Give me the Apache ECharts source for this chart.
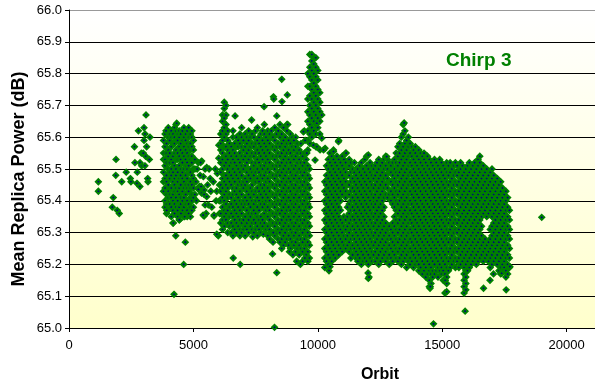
<!DOCTYPE html>
<html><head><meta charset="utf-8">
<script src="https://cdn.jsdelivr.net/npm/echarts@6/dist/echarts.min.js"></script>
<style>html,body{margin:0;padding:0;background:#fff;overflow:hidden}#c{width:595px;height:385px}</style>
</head><body><div id="c"></div>
<script>
// Axis settings (ticks); the plot area is cut at the right edge of the picture
const xTicks = {min: 0, max: 21140, interval: 5000};
const yTicks = {min: 65.0, max: 66.0, interval: 0.1};
const chartTitle = 'Chirp 3';
const xTitle = 'Orbit';
const yTitle = 'Mean Replica Power (dB)';

// Individual points [orbit, power]
const earlyPoints = [[1180,65.46],[1180,65.43],[1780,65.41],[1740,65.38],[1940,65.37],[2020,65.36],[1890,65.53],[1880,65.48],[2120,65.46],[2300,65.49],[2465,65.47],[2490,65.46],[2630,65.57],[2650,65.52],[2745,65.49],[2790,65.62],[2730,65.455],[2850,65.445],[2910,65.55],[2855,65.52],[2920,65.51],[3015,65.63],[3055,65.61],[3015,65.59],[3095,65.67],[3175,65.46],[3160,65.47],[3230,65.53],[3255,65.60],[3120,65.57],[3080,65.54],[2985,65.55],[3050,65.51]];

// Column data: [orbit, power values...]
const clusterB = [
[3800,65.43,65.46,65.49,65.53,65.55,65.59],
[3860,65.38,65.40,65.44,65.47,65.51,65.53,65.57,65.61],
[3920,65.36,65.39,65.42,65.46,65.48,65.52,65.55,65.58,65.62],
[3990,65.37,65.41,65.43,65.45,65.50,65.54,65.56,65.60,65.63],
[4050,65.39,65.42,65.47,65.49,65.52,65.55,65.59,65.61],
[4110,65.35,65.38,65.41,65.44,65.48,65.50,65.53,65.57,65.60,65.62],
[4180,65.33,65.37,65.40,65.42,65.46,65.49,65.52,65.54,65.58,65.61],
[4240,65.36,65.39,65.43,65.45,65.47,65.51,65.55,65.58,65.60,65.63],
[4300,65.38,65.41,65.44,65.48,65.50,65.53,65.56,65.59,65.62,65.64],
[4370,65.35,65.37,65.40,65.43,65.46,65.49,65.53,65.55,65.59,65.61],
[4430,65.34,65.38,65.42,65.44,65.47,65.51,65.54,65.57,65.60,65.62],
[4490,65.36,65.39,65.41,65.45,65.48,65.50,65.53,65.56,65.58,65.61],
[4560,65.37,65.40,65.43,65.47,65.49,65.52,65.55,65.59,65.62],
[4620,65.35,65.38,65.41,65.44,65.46,65.50,65.54,65.57,65.60,65.63],
[4690,65.36,65.39,65.42,65.45,65.48,65.51,65.53,65.56,65.59,65.61],
[4750,65.35,65.37,65.40,65.44,65.47,65.50,65.52,65.55,65.58,65.62],
[4810,65.36,65.39,65.43,65.45,65.49,65.51,65.54,65.57,65.60,65.63],
[4880,65.35,65.38,65.41,65.44,65.46,65.49,65.53,65.56,65.58,65.61],
[4940,65.37,65.40,65.42,65.45,65.48,65.52,65.54,65.57,65.60,65.62],
[5000,65.38,65.41,65.44,65.47,65.50,65.53,65.56,65.59],
[5060,65.42,65.46,65.50,65.53]
];
const outliersB = [[3900,65.62],[4330,65.644],[3925,65.37],[4190,65.33],[4290,65.29],[4675,65.27],[4610,65.20],[4220,65.106],[4435,65.34],[4500,65.36],[4650,65.35]];

const sparseC = [[5200,65.52],[5330,65.525],[5535,65.505],[5630,65.50],[5240,65.445],[5200,65.436],[5330,65.424],[5430,65.434],[5535,65.413],[5600,65.387],[5510,65.36],[5430,65.352],[5830,65.352],[5740,65.38],[5910,65.40],[5940,65.43],[5800,65.46],[5960,65.486],[6020,65.534],[6020,65.575],[5400,65.476],[5670,65.47],[5270,65.48],[5290,65.52],[5470,65.50],[5310,65.445],[5430,65.42],[5470,65.387],[5390,65.355],[5830,65.355],[6000,65.29],[5940,65.295],[5100,65.46],[5120,65.40],[5700,65.43],[5880,65.50],[5570,65.45],[5150,65.50],[6050,65.45],[6040,65.40],[6050,65.36]];

const clusterD = [
[6100,65.33,65.36,65.40,65.43,65.45,65.49,65.52,65.56,65.58,65.61],
[6170,65.31,65.34,65.38,65.41,65.44,65.47,65.50,65.53,65.55,65.59,65.62,65.65,65.67],
[6240,65.32,65.35,65.37,65.40,65.42,65.46,65.48,65.51,65.54,65.57,65.60,65.63,65.66,65.69,65.71],
[6310,65.34,65.36,65.39,65.43,65.45,65.48,65.52,65.54,65.57,65.61,65.64,65.67,65.70],
[6380,65.30,65.33,65.37,65.41,65.44,65.47,65.50,65.53,65.56,65.59,65.62],
[6450,65.32,65.35,65.38,65.42,65.46,65.49,65.51,65.55,65.58],
[6520,65.30,65.33,65.36,65.39,65.41,65.45,65.48,65.52,65.54,65.57],
[6590,65.29,65.32,65.35,65.38,65.42,65.44,65.47,65.50,65.53,65.56,65.60,65.62],
[6660,65.31,65.34,65.37,65.40,65.43,65.46,65.49,65.52,65.55,65.58],
[6730,65.30,65.33,65.36,65.39,65.42,65.44,65.48,65.51,65.54,65.57,65.60],
[6800,65.32,65.35,65.38,65.41,65.45,65.47,65.50,65.53,65.57,65.59],
[6870,65.29,65.31,65.34,65.37,65.40,65.43,65.46,65.49,65.52,65.55,65.58,65.61],
[6940,65.30,65.33,65.36,65.39,65.42,65.45,65.48,65.51,65.54,65.57,65.60,65.63],
[7010,65.31,65.34,65.38,65.40,65.44,65.46,65.50,65.53,65.56,65.59],
[7080,65.29,65.32,65.35,65.39,65.41,65.45,65.47,65.51,65.54,65.57,65.61],
[7150,65.31,65.33,65.37,65.40,65.43,65.46,65.49,65.52,65.55,65.58,65.60],
[7220,65.30,65.34,65.36,65.39,65.42,65.44,65.48,65.50,65.53,65.56,65.59,65.62],
[7290,65.32,65.35,65.38,65.41,65.44,65.47,65.50,65.54,65.57,65.60],
[7360,65.31,65.33,65.36,65.40,65.43,65.45,65.49,65.52,65.55,65.58,65.61],
[7430,65.30,65.34,65.37,65.39,65.42,65.46,65.48,65.51,65.54,65.57,65.60],
[7500,65.31,65.33,65.36,65.40,65.43,65.46,65.49,65.52,65.55,65.58,65.62],
[7570,65.29,65.32,65.35,65.38,65.41,65.44,65.47,65.50,65.53,65.56,65.59,65.63],
[7640,65.31,65.34,65.37,65.40,65.43,65.46,65.49,65.52,65.55,65.58,65.60],
[7710,65.30,65.33,65.35,65.39,65.42,65.45,65.48,65.51,65.54,65.57,65.61],
[7780,65.32,65.34,65.38,65.41,65.44,65.47,65.50,65.53,65.56,65.59,65.62],
[7850,65.30,65.33,65.36,65.39,65.43,65.45,65.48,65.51,65.55,65.58,65.61,65.64],
[7920,65.31,65.35,65.37,65.40,65.42,65.46,65.49,65.52,65.54,65.57,65.60],
[7990,65.29,65.32,65.35,65.38,65.41,65.44,65.47,65.50,65.53,65.56,65.59,65.62],
[8060,65.28,65.31,65.34,65.37,65.40,65.43,65.46,65.49,65.52,65.55,65.58,65.61],
[8130,65.30,65.33,65.36,65.39,65.42,65.45,65.48,65.51,65.54,65.57,65.60,65.62],
[8200,65.27,65.30,65.33,65.36,65.39,65.42,65.45,65.48,65.51,65.54,65.57,65.60],
[8270,65.29,65.32,65.35,65.38,65.41,65.44,65.47,65.50,65.53,65.56,65.59,65.63],
[8340,65.30,65.33,65.36,65.39,65.42,65.45,65.48,65.51,65.54,65.57,65.61],
[8410,65.28,65.31,65.34,65.37,65.40,65.43,65.46,65.49,65.52,65.55,65.58,65.62],
[8480,65.27,65.30,65.33,65.36,65.39,65.42,65.45,65.48,65.51,65.54,65.57,65.60,65.64],
[8550,65.25,65.28,65.31,65.34,65.37,65.40,65.43,65.46,65.49,65.52,65.55,65.58,65.61],
[8620,65.26,65.29,65.32,65.35,65.38,65.41,65.44,65.47,65.50,65.53,65.56,65.59,65.63],
[8690,65.27,65.30,65.33,65.36,65.39,65.42,65.45,65.48,65.51,65.54,65.57,65.60],
[8760,65.28,65.31,65.34,65.37,65.40,65.43,65.46,65.49,65.52,65.55,65.58,65.62,65.64],
[8830,65.26,65.29,65.32,65.35,65.38,65.41,65.44,65.47,65.50,65.53,65.56,65.59],
[8900,65.25,65.28,65.31,65.34,65.37,65.40,65.43,65.46,65.49,65.52,65.55,65.58,65.61],
[8970,65.27,65.30,65.33,65.36,65.39,65.42,65.45,65.48,65.51,65.54,65.57,65.60],
[9040,65.26,65.29,65.32,65.35,65.38,65.41,65.44,65.47,65.50,65.53,65.56,65.59],
[9110,65.24,65.27,65.30,65.33,65.36,65.39,65.42,65.45,65.48,65.51,65.54,65.57,65.60],
[9180,65.25,65.28,65.31,65.34,65.37,65.40,65.43,65.46,65.49,65.52,65.55,65.58],
[9250,65.23,65.26,65.29,65.32,65.35,65.38,65.41,65.44,65.47,65.50,65.53,65.56],
[9320,65.25,65.28,65.31,65.34,65.37,65.40,65.43,65.46,65.49,65.52,65.55,65.58],
[9390,65.21,65.24,65.27,65.30,65.33,65.36,65.39,65.42,65.45,65.48,65.51,65.54],
[9460,65.25,65.28,65.31,65.34,65.37,65.40,65.43,65.46,65.49,65.52,65.55,65.62],
[9530,65.23,65.26,65.29,65.32,65.35,65.38,65.41,65.44,65.47,65.50,65.53],
[9600,65.21,65.24,65.27,65.30,65.33,65.36,65.39,65.42,65.45,65.48,65.51],
[9660,65.22,65.26,65.29,65.32,65.35,65.38,65.41,65.44,65.47,65.50]
];
const outliersD = [[6600,65.22],[6880,65.20],[8180,65.233],[8350,65.174],[8260,65.002],[8550,65.782],[8775,65.733],[8215,65.727],[8230,65.72],[8560,65.712],[7840,65.696],[7340,65.654],[6675,65.667],[8350,65.667],[8790,65.64],[7385,65.287],[7810,65.295],[8210,65.30],[9000,65.23],[9150,65.21],[9300,65.20],[8860,65.24],[9480,65.22]];

const columnE = [
[9600,65.56,65.59,65.62,65.65,65.68,65.72,65.76,65.80],
[9680,65.58,65.61,65.64,65.67,65.70,65.73,65.76,65.79,65.82,65.86],
[9760,65.60,65.63,65.66,65.69,65.72,65.75,65.78,65.81,65.84,65.86],
[9840,65.62,65.65,65.68,65.71,65.74,65.77,65.80,65.83,65.85],
[9920,65.57,65.61,65.64,65.67,65.70,65.73,65.76,65.79,65.82,65.85],
[10000,65.63,65.66,65.69,65.72,65.75,65.78,65.81],
[10080,65.61,65.65,65.68,65.71,65.74]
];
const extrasE = [[9420,65.617],[9490,65.59],[9560,65.55],[9890,65.528],[9960,65.57],[10090,65.56],[10160,65.597],[10290,65.565],[9820,65.575],[10160,65.67],[10230,65.56],[9960,65.644]];

const clusterF = [
[10280,65.19,65.22,65.25,65.28,65.31,65.34,65.37,65.40,65.43,65.46],
[10350,65.21,65.24,65.27,65.30,65.33,65.36,65.39,65.42,65.45,65.48,65.51],
[10420,65.20,65.23,65.26,65.29,65.32,65.35,65.38,65.41,65.44,65.47,65.50,65.53],
[10490,65.22,65.25,65.28,65.31,65.34,65.37,65.40,65.43,65.46,65.49,65.52,65.55],
[10560,65.21,65.24,65.27,65.30,65.33,65.36,65.39,65.42,65.45,65.48,65.51,65.54],
[10630,65.23,65.26,65.29,65.32,65.35,65.38,65.41,65.44,65.47,65.50,65.53,65.56],
[10700,65.22,65.25,65.28,65.31,65.34,65.37,65.40,65.43,65.46,65.49,65.52],
[10770,65.24,65.27,65.30,65.33,65.36,65.39,65.42,65.45,65.48,65.51,65.54],
[10840,65.23,65.26,65.29,65.32,65.35,65.38,65.41,65.44,65.47,65.50,65.53,65.59],
[10910,65.25,65.28,65.31,65.34,65.37,65.40,65.43,65.46,65.49,65.52],
[10980,65.24,65.27,65.30,65.33,65.42,65.45,65.48,65.51,65.54],
[11050,65.26,65.29,65.32,65.35,65.44,65.47,65.50,65.53],
[11120,65.25,65.28,65.31,65.34,65.41,65.43,65.46,65.49,65.52,65.55],
[11190,65.26,65.29,65.32,65.35,65.38,65.42,65.45,65.48,65.51],
[11260,65.24,65.27,65.30,65.33,65.36,65.39,65.42,65.45,65.48,65.51,65.53],
[11330,65.22,65.25,65.28,65.31,65.34,65.37,65.40,65.43,65.46,65.49,65.52],
[11400,65.23,65.26,65.29,65.32,65.35,65.38,65.41,65.44,65.47,65.50],
[11470,65.25,65.28,65.31,65.34,65.37,65.40,65.43,65.46,65.49,65.52],
[11540,65.22,65.24,65.27,65.30,65.33,65.36,65.39,65.42,65.45,65.48,65.50],
[11610,65.21,65.23,65.26,65.29,65.32,65.35,65.38,65.41,65.44,65.47,65.50],
[11680,65.22,65.25,65.28,65.31,65.34,65.37,65.40,65.43,65.46,65.49,65.51],
[11750,65.20,65.24,65.27,65.30,65.33,65.36,65.39,65.42,65.45,65.48,65.52],
[11820,65.21,65.23,65.26,65.29,65.32,65.35,65.38,65.41,65.44,65.47,65.50],
[11890,65.22,65.25,65.28,65.31,65.34,65.37,65.40,65.43,65.46,65.49,65.53],
[11960,65.21,65.24,65.27,65.30,65.33,65.36,65.39,65.42,65.45,65.48,65.51,65.54],
[12030,65.20,65.23,65.26,65.29,65.32,65.35,65.38,65.41,65.44,65.47,65.50],
[12100,65.22,65.25,65.28,65.31,65.34,65.37,65.40,65.43,65.46,65.49,65.52],
[12170,65.21,65.24,65.27,65.30,65.33,65.36,65.39,65.42,65.45,65.48,65.51],
[12240,65.23,65.26,65.29,65.32,65.35,65.38,65.41,65.44,65.47,65.50],
[12310,65.21,65.24,65.27,65.30,65.33,65.36,65.39,65.42,65.45,65.48,65.51],
[12380,65.22,65.25,65.28,65.31,65.34,65.37,65.40,65.43,65.46,65.49,65.52],
[12450,65.20,65.23,65.26,65.29,65.32,65.35,65.38,65.41,65.44,65.47,65.50,65.53],
[12520,65.21,65.24,65.27,65.30,65.33,65.36,65.39,65.42,65.45,65.48,65.51],
[12590,65.22,65.25,65.28,65.31,65.34,65.37,65.40,65.43,65.46,65.49,65.52],
[12660,65.23,65.26,65.29,65.32,65.35,65.38,65.41,65.44,65.47,65.50,65.53],
[12730,65.21,65.24,65.27,65.30,65.33,65.42,65.45,65.48,65.51,65.54],
[12800,65.22,65.25,65.28,65.31,65.41,65.44,65.47,65.50,65.53],
[12870,65.20,65.23,65.26,65.29,65.32,65.42,65.46,65.49,65.52],
[12940,65.22,65.25,65.28,65.31,65.40,65.43,65.46,65.49,65.51],
[13010,65.21,65.24,65.27,65.30,65.33,65.39,65.42,65.45,65.48,65.52],
[13080,65.23,65.26,65.29,65.32,65.35,65.38,65.41,65.44,65.47,65.50,65.53],
[13150,65.22,65.25,65.28,65.31,65.34,65.37,65.40,65.43,65.46,65.49,65.52,65.55],
[13220,65.21,65.24,65.27,65.30,65.33,65.36,65.39,65.42,65.45,65.48,65.51,65.54,65.57],
[13290,65.22,65.25,65.28,65.31,65.34,65.37,65.40,65.43,65.46,65.49,65.52,65.55,65.58]
];
const extrasF = [[10490,65.193],[10450,65.18],[12020,65.173],[12030,65.156],[12060,65.16],[10830,65.586],[12030,65.544],[12770,65.539],[10630,65.555],[11140,65.55]];

const clusterG = [
[13360,65.20,65.23,65.26,65.29,65.32,65.35,65.38,65.41,65.44,65.47,65.50,65.53,65.56,65.60],
[13430,65.21,65.24,65.27,65.30,65.33,65.36,65.39,65.42,65.45,65.48,65.51,65.54,65.57,65.61,65.64],
[13500,65.22,65.25,65.28,65.31,65.34,65.37,65.40,65.43,65.46,65.49,65.52,65.55,65.58,65.62],
[13570,65.19,65.23,65.26,65.29,65.32,65.35,65.38,65.41,65.44,65.47,65.50,65.53,65.56,65.59],
[13640,65.21,65.24,65.27,65.30,65.33,65.36,65.39,65.42,65.45,65.48,65.51,65.54,65.57,65.60],
[13710,65.20,65.22,65.25,65.28,65.31,65.34,65.37,65.40,65.43,65.46,65.49,65.52,65.55,65.58],
[13780,65.21,65.24,65.27,65.30,65.33,65.36,65.39,65.42,65.45,65.48,65.51,65.54,65.57],
[13850,65.19,65.23,65.26,65.29,65.32,65.35,65.38,65.41,65.44,65.47,65.50,65.53,65.56],
[13920,65.20,65.22,65.25,65.28,65.31,65.34,65.37,65.40,65.43,65.46,65.49,65.52,65.55,65.57],
[13990,65.21,65.24,65.27,65.30,65.33,65.36,65.39,65.42,65.45,65.48,65.51,65.54],
[14060,65.18,65.20,65.23,65.26,65.29,65.32,65.35,65.38,65.41,65.44,65.47,65.50,65.53,65.56],
[14130,65.19,65.22,65.25,65.28,65.31,65.34,65.37,65.40,65.43,65.46,65.49,65.52,65.55],
[14200,65.17,65.21,65.24,65.27,65.30,65.33,65.36,65.39,65.42,65.45,65.48,65.51,65.54],
[14270,65.18,65.20,65.23,65.26,65.29,65.32,65.35,65.38,65.41,65.44,65.47,65.50,65.53,65.55],
[14340,65.16,65.19,65.22,65.25,65.28,65.31,65.34,65.37,65.40,65.43,65.46,65.49,65.52],
[14410,65.17,65.21,65.24,65.27,65.30,65.33,65.36,65.39,65.42,65.45,65.48,65.51,65.54],
[14480,65.13,65.15,65.18,65.20,65.23,65.26,65.29,65.32,65.35,65.38,65.41,65.44,65.47,65.50,65.53],
[14550,65.14,65.17,65.19,65.22,65.25,65.28,65.31,65.34,65.37,65.40,65.43,65.46,65.49,65.52],
[14620,65.16,65.18,65.21,65.24,65.27,65.30,65.33,65.36,65.39,65.42,65.45,65.48,65.51],
[14690,65.17,65.20,65.23,65.26,65.29,65.32,65.35,65.38,65.41,65.44,65.47,65.50,65.53],
[14760,65.18,65.22,65.25,65.28,65.31,65.34,65.37,65.40,65.43,65.46,65.49,65.52],
[14830,65.16,65.19,65.21,65.24,65.27,65.30,65.33,65.36,65.39,65.42,65.45,65.48,65.51],
[14900,65.18,65.20,65.23,65.26,65.29,65.32,65.35,65.38,65.41,65.44,65.47,65.50,65.53],
[14970,65.17,65.19,65.22,65.25,65.28,65.31,65.34,65.37,65.40,65.43,65.46,65.49,65.52],
[15040,65.15,65.18,65.21,65.24,65.27,65.30,65.33,65.36,65.39,65.42,65.45,65.48,65.51],
[15110,65.11,65.15,65.17,65.20,65.23,65.26,65.29,65.32,65.35,65.38,65.41,65.44,65.47,65.50],
[15180,65.14,65.16,65.19,65.22,65.25,65.28,65.31,65.34,65.37,65.40,65.43,65.46,65.49,65.52],
[15250,65.18,65.21,65.24,65.27,65.30,65.33,65.36,65.39,65.42,65.45,65.48,65.51],
[15320,65.19,65.22,65.25,65.28,65.31,65.34,65.37,65.40,65.43,65.46,65.49,65.52],
[15390,65.20,65.23,65.26,65.29,65.32,65.35,65.38,65.41,65.44,65.47,65.50],
[15460,65.21,65.24,65.27,65.30,65.33,65.36,65.39,65.42,65.45,65.48,65.51],
[15530,65.19,65.22,65.25,65.28,65.31,65.34,65.37,65.40,65.43,65.46,65.49,65.52]
];

const clusterH = [
[15600,65.21,65.24,65.27,65.30,65.33,65.36,65.39,65.42,65.45,65.48,65.51],
[15670,65.19,65.22,65.25,65.28,65.31,65.34,65.37,65.40,65.43,65.46,65.49],
[15740,65.20,65.23,65.26,65.29,65.32,65.35,65.38,65.41,65.44,65.47,65.50,65.52],
[15810,65.21,65.24,65.27,65.30,65.33,65.36,65.39,65.42,65.45,65.48,65.51],
[15880,65.11,65.13,65.15,65.17,65.19,65.22,65.25,65.28,65.31,65.34,65.37,65.40,65.43,65.46,65.49],
[15950,65.12,65.14,65.16,65.18,65.20,65.23,65.26,65.29,65.32,65.35,65.38,65.41,65.44,65.47,65.50],
[16020,65.18,65.21,65.24,65.27,65.30,65.33,65.36,65.39,65.42,65.45,65.48,65.51],
[16090,65.19,65.22,65.25,65.28,65.31,65.34,65.37,65.40,65.43,65.46,65.49,65.52],
[16160,65.20,65.23,65.26,65.29,65.32,65.35,65.38,65.41,65.44,65.47,65.50],
[16230,65.21,65.24,65.27,65.30,65.33,65.36,65.39,65.42,65.45,65.48,65.51],
[16300,65.22,65.25,65.28,65.31,65.34,65.37,65.40,65.43,65.46,65.49,65.52],
[16370,65.20,65.23,65.26,65.29,65.32,65.35,65.38,65.41,65.44,65.47,65.50],
[16440,65.21,65.24,65.27,65.30,65.33,65.36,65.39,65.42,65.45,65.48,65.51,65.53],
[16510,65.22,65.25,65.28,65.31,65.34,65.37,65.40,65.43,65.46,65.49,65.52,65.54],
[16580,65.23,65.26,65.29,65.32,65.35,65.38,65.41,65.44,65.47,65.50],
[16650,65.21,65.24,65.27,65.36,65.39,65.42,65.45,65.48,65.51],
[16720,65.22,65.25,65.28,65.37,65.40,65.43,65.46,65.49],
[16790,65.23,65.26,65.35,65.38,65.41,65.44,65.47,65.50],
[16860,65.21,65.24,65.27,65.36,65.39,65.42,65.45,65.48],
[16930,65.19,65.22,65.25,65.28,65.31,65.37,65.40,65.43,65.46,65.49],
[17000,65.20,65.23,65.26,65.29,65.32,65.35,65.38,65.41,65.44,65.47,65.50],
[17070,65.21,65.24,65.27,65.30,65.33,65.36,65.39,65.42,65.45,65.48],
[17140,65.22,65.25,65.28,65.31,65.34,65.37,65.40,65.43,65.46],
[17210,65.20,65.23,65.26,65.29,65.32,65.35,65.38,65.41,65.44,65.47],
[17280,65.18,65.21,65.24,65.27,65.30,65.33,65.36,65.39,65.42,65.45],
[17350,65.17,65.19,65.22,65.25,65.28,65.31,65.34,65.37,65.40,65.43,65.46],
[17420,65.18,65.20,65.23,65.26,65.29,65.32,65.35,65.38,65.41,65.44],
[17490,65.19,65.21,65.24,65.27,65.30,65.33,65.36,65.39,65.42],
[17560,65.16,65.18,65.22,65.25,65.28,65.31,65.34,65.37,65.40,65.43],
[17630,65.17,65.20,65.23,65.26,65.29,65.32,65.35,65.38,65.41],
[17700,65.19,65.22,65.25,65.28,65.31,65.34,65.37]
];
const outliersGH = [[15920,65.053],[14650,65.013],[16660,65.125],[17570,65.12],[19000,65.348],[14510,65.125],[15180,65.114],[16920,65.15],[17060,65.17],[14520,65.13],[15120,65.15],[17390,65.172],[17720,65.193],[13470,65.645]];

function expandColumns(cols){
  const out = [];
  cols.forEach(c => { for (let i = 1; i < c.length; i++) out.push([c[0], c[i]]); });
  return out;
}
const allPoints = [].concat(
  earlyPoints,
  expandColumns(clusterB), outliersB,
  sparseC,
  expandColumns(clusterD), outliersD,
  expandColumns(columnE), extrasE,
  expandColumns(clusterF), extrasF,
  expandColumns(clusterG),
  expandColumns(clusterH), outliersGH
);

const chart = echarts.init(document.getElementById('c'), null, {renderer: 'canvas'});
const font = 'Liberation Sans, Arial, sans-serif';
const splitColors = ['#000','#000','#000','#000','#000','#000','#000','#000','#000','#000','#999'];
chart.setOption({
  animation: false,
  backgroundColor: '#ffffff',
  grid: {
    left: 69, top: 10, right: 0, bottom: 57,
    show: true, borderWidth: 0,
    backgroundColor: new echarts.graphic.LinearGradient(0, 0, 0, 1, [
      {offset: 0, color: '#ffffff'}, {offset: 1, color: '#ffffcc'}])
  },
  xAxis: {
    type: 'value', min: xTicks.min, max: xTicks.max, interval: xTicks.interval,
    axisLine: {show: true, lineStyle: {color: '#000', width: 1}},
    axisTick: {show: true, length: 4, lineStyle: {color: '#000'}},
    axisLabel: {color: '#000', fontSize: 13, fontFamily: font, margin: 11,
      showMaxLabel: false,
      formatter: v => (v % xTicks.interval === 0 ? String(v) : '')},
    splitLine: {show: false}
  },
  yAxis: {
    type: 'value', min: yTicks.min, max: yTicks.max, interval: yTicks.interval,
    axisLine: {show: true, lineStyle: {color: '#000', width: 1}},
    axisTick: {show: true, length: 4, lineStyle: {color: '#000'}},
    axisLabel: {color: '#000', fontSize: 13, fontFamily: font, margin: 7,
      formatter: v => v.toFixed(1)},
    splitLine: {show: true, lineStyle: {color: splitColors, width: 1}}
  },
  graphic: [
    {type: 'text', left: 446, top: 51, style: {text: chartTitle, fill: '#008000',
      font: 'bold 19px ' + font}},
    {type: 'text', x: 380, y: 375, style: {text: xTitle, fill: '#000',
      font: 'bold 16px ' + font, textAlign: 'center', textVerticalAlign: 'middle'}},
    {type: 'text', x: 19, y: 179, rotation: Math.PI / 2, style: {text: yTitle, fill: '#000',
      font: 'bold 18px ' + font, textAlign: 'center', textVerticalAlign: 'middle'}}
  ],
  series: [{
    type: 'scatter', data: allPoints, symbol: 'diamond', symbolSize: 5,
    itemStyle: {color: '#000080', borderColor: '#008000', borderWidth: 2, opacity: 1},
    emphasis: {disabled: true}, silent: true, large: false
  }]
});
</script></body></html>
